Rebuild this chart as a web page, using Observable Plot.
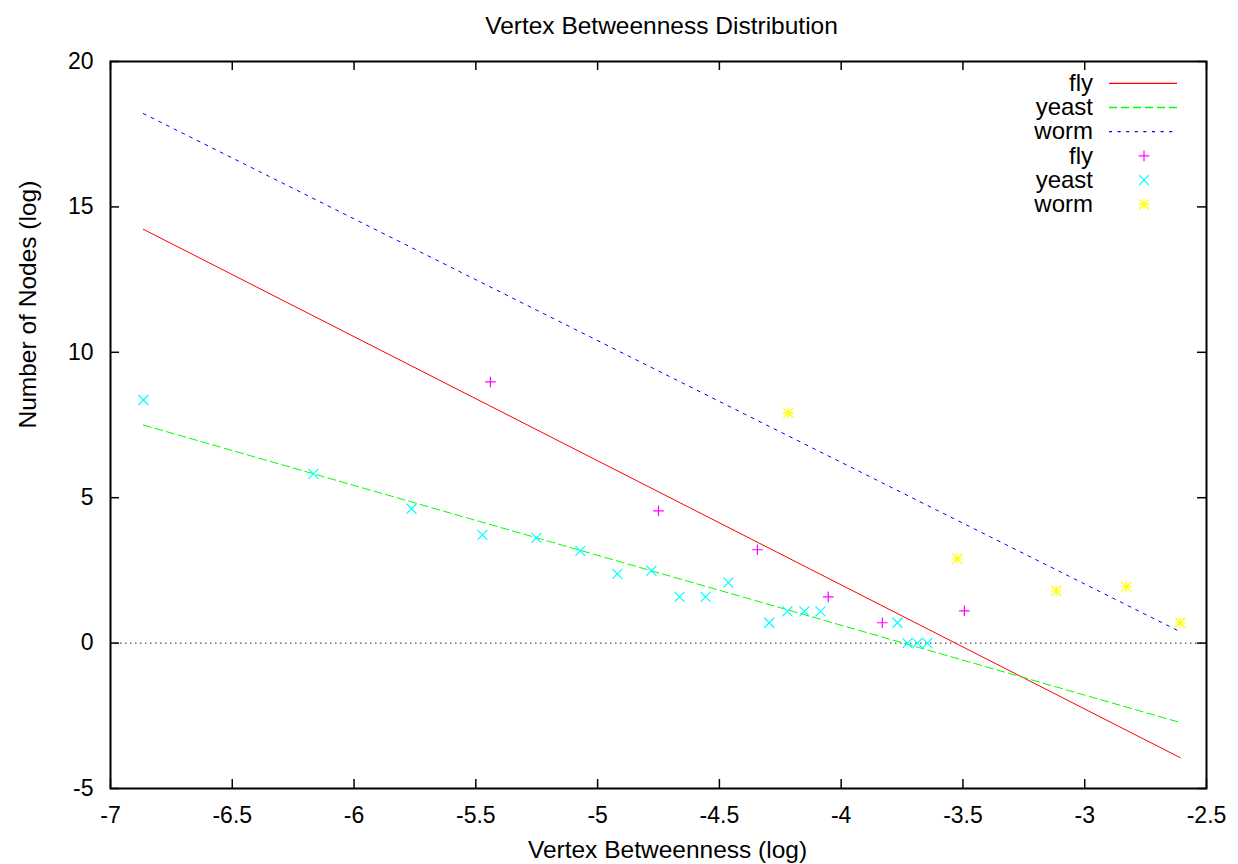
<!DOCTYPE html>
<html>
<head>
<meta charset="utf-8">
<script src="https://cdn.jsdelivr.net/npm/d3@7"></script>
<script src="https://cdn.jsdelivr.net/npm/@observablehq/plot@0.6"></script>
<style>
  html, body { margin: 0; padding: 0; background: #fff; }
  #chart svg { display: block; }
</style>
</head>
<body>
<div id="chart"></div>
<script>
// ---- data ----
const titleText = "Vertex Betweenness Distribution";
const xLabelText = "Vertex Betweenness (log)";
const yLabelText = "Number of Nodes (log)";

const xTicks = [-7, -6.5, -6, -5.5, -5, -4.5, -4, -3.5, -3, -2.5];
const yTicks = [-5, 0, 5, 10, 15, 20];

const flyX = [-5.440, -4.750, -4.344, -4.053, -3.831, -3.494];
const flyY = [8.98, 4.55, 3.21, 1.59, 0.70, 1.11];

const yeastX = [-6.865, -6.167, -5.764, -5.473, -5.251, -5.071, -4.919, -4.779, -4.664, -4.557,
                -4.463, -4.295, -4.221, -4.151, -4.085, -3.769, -3.728, -3.687, -3.646];
const yeastY = [8.36, 5.82, 4.62, 3.72, 3.62, 3.17, 2.38, 2.49, 1.59, 1.59,
                2.08, 0.70, 1.09, 1.09, 1.09, 0.70, 0.00, 0.00, 0.00];

const wormX = [-4.217, -3.523, -3.117, -2.829, -2.608];
const wormY = [7.92, 2.90, 1.80, 1.94, 0.70];

// fitted lines: two end points each
const fitX = [-6.865, -2.608];
const flyFitY = [14.23, -3.94];
const yeastFitY = [7.50, -2.73];
const wormFitY = [18.21, 0.39];

const legendNames = ["fly", "yeast", "worm", "fly", "yeast", "worm"];

// ---- styles ----
const FONT = "'Liberation Sans', Arial, Helvetica, sans-serif";
const C = {fly: "#ff0000", yeast: "#00ff00", worm: "#0000ff",
           flyPt: "#ff00ff", yeastPt: "#00ffff", wormPt: "#ffff00"};
const DASH = {fly: null, yeast: "8,4", worm: "3,5.6"};
const PLUS_R = 3.5, TIMES_R = 4.6, PT_SW = 1.2;

const pts = (xs, ys) => xs.map((x, i) => ({x, y: ys[i]}));

const fly = pts(flyX, flyY), yeast = pts(yeastX, yeastY), worm = pts(wormX, wormY);

const W = 1238, H = 864, mL = 110, mR = 32, mT = 61, mB = 76;
const frameW = W - mL - mR, frameH = H - mT - mB;
const TICK = 9;

const svg = Plot.plot({
  width: W, height: H,
  marginLeft: mL, marginRight: mR, marginTop: mT, marginBottom: mB,
  x: {domain: [-7, -2.5], label: null},
  y: {domain: [-5, 20], label: null},
  style: {fontFamily: FONT, fontSize: "23px", color: "#000", background: "#fff"},
  marks: [
    Plot.ruleY([0], {stroke: "#222", strokeWidth: 1, strokeDasharray: "1.5,3.5"}),
    Plot.line(pts(fitX, flyFitY), {x: "x", y: "y", stroke: C.fly, strokeWidth: 1}),
    Plot.line(pts(fitX, yeastFitY), {x: "x", y: "y", stroke: C.yeast, strokeWidth: 1, strokeDasharray: DASH.yeast}),
    Plot.line(pts(fitX, wormFitY), {x: "x", y: "y", stroke: C.worm, strokeWidth: 1, strokeDasharray: DASH.worm}),
    Plot.dot(fly, {x: "x", y: "y", symbol: "plus", r: PLUS_R, stroke: C.flyPt, strokeWidth: PT_SW}),
    Plot.dot(yeast, {x: "x", y: "y", symbol: "times", r: TIMES_R, stroke: C.yeastPt, strokeWidth: PT_SW}),
    Plot.dot(worm, {x: "x", y: "y", symbol: "plus", r: PLUS_R, stroke: C.wormPt, strokeWidth: PT_SW}),
    Plot.dot(worm, {x: "x", y: "y", symbol: "times", r: TIMES_R, stroke: C.wormPt, strokeWidth: PT_SW}),
    // inward ticks on all four sides
    Plot.tickX(xTicks, {x: d => d, insetTop: frameH - TICK, strokeWidth: 1.5}),
    Plot.tickX(xTicks, {x: d => d, insetBottom: frameH - TICK, strokeWidth: 1.5}),
    Plot.tickY(yTicks, {y: d => d, insetRight: frameW - TICK, strokeWidth: 1.5}),
    Plot.tickY(yTicks, {y: d => d, insetLeft: frameW - TICK, strokeWidth: 1.5}),
    Plot.axisX({ticks: xTicks, tickSize: 0, tickPadding: 18, tickFormat: d => String(d), label: null, fontSize: 23}),
    Plot.axisY({ticks: yTicks, tickSize: 0, tickPadding: 17, tickFormat: d => String(d), label: null, fontSize: 23}),
    Plot.frame({stroke: "#000", strokeWidth: 2}),
    Plot.text([titleText], {text: d => d, frameAnchor: "top", lineAnchor: "bottom", dy: -28, dx: 3, fontSize: 24.5}),
    Plot.text([xLabelText], {text: d => d, frameAnchor: "bottom", lineAnchor: "bottom", dy: 69, dx: 9, fontSize: 24.5}),
    Plot.text([yLabelText], {text: d => d, frameAnchor: "left", rotate: -90, lineAnchor: "bottom", dx: -75, dy: 3.5, fontSize: 24.5})
  ]
});

// ---- legend (layout overlay) ----
const g = d3.select(svg).append("g").attr("font-family", FONT).attr("font-size", 24);
const base0 = 91, step = 24.2, textRight = 1093, sx1 = 1109, sx2 = 1177, mx = 1144;
const symPath = (type, r) => d3.symbol(type, Math.PI * r * r)();
legendNames.forEach((name, i) => {
  const by = base0 + i * step, cy = by - 7.7;
  g.append("text").attr("x", textRight).attr("y", by).attr("text-anchor", "end").attr("fill", "#000").text(name);
  if (i < 3) {
    const ln = g.append("line").attr("x1", sx1).attr("x2", sx2).attr("y1", cy).attr("y2", cy)
      .style("stroke", C[name]).attr("stroke-width", 1.3);
    if (DASH[name]) ln.attr("stroke-dasharray", DASH[name]);
  } else {
    const col = C[name + "Pt"];
    const types = name === "fly" ? [[d3.symbolPlus, PLUS_R]] :
                  name === "yeast" ? [[d3.symbolTimes, TIMES_R]] :
                  [[d3.symbolPlus, PLUS_R], [d3.symbolTimes, TIMES_R]];
    types.forEach(([t, r]) => g.append("path").attr("d", symPath(t, r))
      .attr("transform", `translate(${mx},${cy})`).attr("fill", "none")
      .attr("stroke", col).attr("stroke-width", PT_SW));
  }
});

document.getElementById("chart").appendChild(svg);
</script>
</body>
</html>
